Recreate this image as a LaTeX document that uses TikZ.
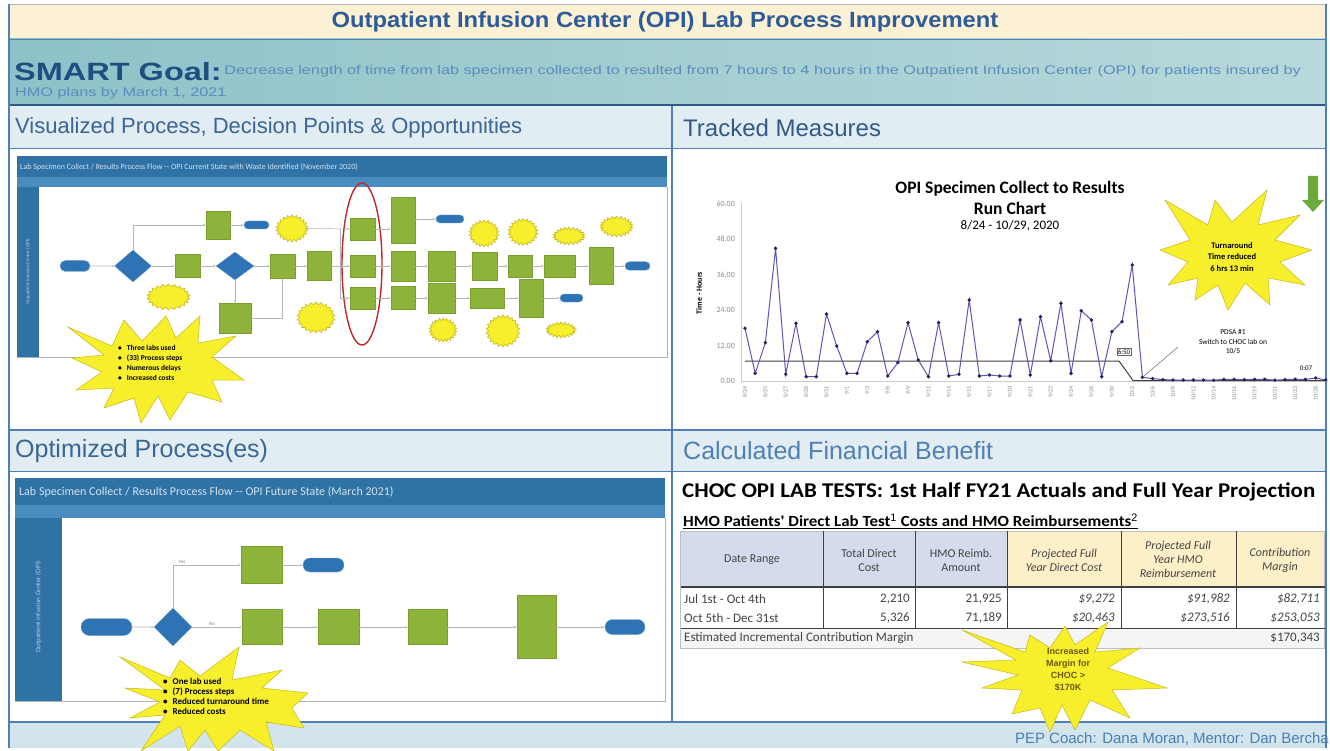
\documentclass[tikz,border=0pt]{standalone}
\usepackage{fontspec}
\setmainfont{Liberation Sans}
\newfontfamily\calfont{Carlito}
\newfontfamily\calwide[FakeStretch=1.09]{Carlito}
\newfontfamily\widesans[FakeStretch=1.3]{Liberation Sans}
\newfontfamily\titlesans[FakeStretch=1.08]{Liberation Sans}
\usetikzlibrary{shapes.geometric,shapes.misc,shapes.symbols,arrows.meta}
\newcommand\fsz[2]{\fontsize{#1}{#2}\selectfont}
\definecolor{titlebg}{HTML}{FCF1D4}
\definecolor{titlefg}{HTML}{2D5C99}
\definecolor{goalL}{HTML}{8EC2C8}
\definecolor{goalR}{HTML}{B8D9DB}
\definecolor{goalfg}{HTML}{1F4E80}
\definecolor{goaltx}{HTML}{5A8CBE}
\definecolor{hdrbg}{HTML}{E1EDF2}
\definecolor{hdrfg}{HTML}{3A6596}
\definecolor{rulec}{HTML}{4F7FB5}
\definecolor{darkrule}{HTML}{2E5A87}
\definecolor{footbg}{HTML}{D2E5EC}
\definecolor{footfg}{HTML}{4A7DB5}
\definecolor{flowblue}{HTML}{2F72A6}
\definecolor{flowlight}{HTML}{4A8CC0}
\definecolor{boxgreen}{HTML}{8DB33B}
\definecolor{boxgreenD}{HTML}{7A9E2E}
\definecolor{ovalblue}{HTML}{2E74B5}
\definecolor{burstY}{HTML}{F7EE2C}
\definecolor{burstD}{HTML}{C8B820}
\definecolor{ringred}{HTML}{C0282E}
\definecolor{connc}{HTML}{B4B4B4}
\definecolor{chartline}{HTML}{5A57B8}
\definecolor{chartmark}{HTML}{23235A}
\definecolor{axisgray}{HTML}{8C8C8C}
\definecolor{thBlue}{HTML}{D3DBEC}
\definecolor{thYel}{HTML}{FDF0C9}
\definecolor{tabtx}{HTML}{444444}
\definecolor{arrowgreen}{HTML}{6BAA3A}
\definecolor{burstTx}{HTML}{6B5A10}
\begin{document}
\begin{tikzpicture}[x=1pt,y=-1pt,
  gbox/.style={draw=boxgreenD, fill=boxgreen, line width=0.4pt, inner sep=0pt},
  bov/.style={rounded rectangle, fill=ovalblue, draw=ovalblue!70!white, line width=0.4pt, inner sep=0pt},
  dia/.style={diamond, fill=ovalblue, draw=ovalblue!70!white, line width=0.4pt, inner sep=0pt},
  blob/.style={starburst, starburst points=22, starburst point height=2.5pt, random starburst=0, fill=burstY, draw=burstD, line width=0.6pt, inner sep=0pt},
  cn/.style={draw=connc, line width=0.6pt, -{Stealth[length=2.5pt,width=2pt]}},
  cnp/.style={draw=connc, line width=0.6pt},
  burst/.style={fill=burstY, draw=burstD, line width=0.5pt},
  hdr/.style={anchor=west, text=hdrfg, inner sep=0pt},
  ylab/.style={anchor=east, text=axisgray, inner sep=0pt, font=\calfont\fsz{8}{9}},
  dlab/.style={anchor=east, rotate=90, text=axisgray, inner sep=0pt, font=\calfont\fsz{6}{7}},
  th/.style={text=tabtx, align=center, inner sep=0pt, font=\calfont\fsz{12}{14}},
  thi/.style={th, font=\calfont\itshape\fsz{12}{14}},
  td/.style={text=tabtx, inner sep=0pt, font=\calfont\fsz{13}{14}},
  tdi/.style={td, font=\calfont\itshape\fsz{13}{14}},
  btx/.style={inner sep=0pt, align=left, font=\calfont\bfseries\fsz{7.5}{10}}
]
\useasboundingbox (0,0) rectangle (1330,751);
\fill[white] (0,0) rectangle (1330,751);
% ---------- bands ----------
\fill[titlebg] (8,4) rectangle (1326,39);
\shade[left color=goalL, right color=goalR] (8,39) rectangle (1326,104);
\fill[hdrbg] (8,106) rectangle (1326,148);
\fill[hdrbg] (8,431) rectangle (1326,471);
\fill[footbg] (8,722) rectangle (1326,748);
\draw[gray!60, line width=0.8pt] (8,4) -- (1326,4);
\draw[rulec, line width=0.6pt] (8,39) -- (1326,39);
\draw[darkrule, line width=2pt] (8,105) -- (1326,105);
\draw[rulec, line width=0.8pt] (8,148) -- (1326,148);
\draw[rulec, line width=1.5pt] (8,430) -- (1326,430);
\draw[rulec, line width=0.8pt] (8,471) -- (1326,471);
\draw[rulec, line width=1.2pt] (8,722) -- (1326,722);
\draw[rulec, line width=1.2pt] (9,4) -- (9,748);
\draw[rulec, line width=1.2pt] (1326,4) -- (1326,748);
\draw[rulec, line width=1.5pt] (672,106) -- (672,722);
% ---------- title & goal ----------
\node[inner sep=0pt, text=titlefg, font=\titlesans\bfseries\fsz{22}{24}] (title) at (665,22) {Outpatient Infusion Center (OPI) Lab Process Improvement};
\node[anchor=west, inner sep=0pt, text=goalfg, font=\widesans\bfseries\fsz{25}{27}] (smart) at (14,72) {SMART Goal:};
\node[anchor=west, inner sep=0pt, text=goaltx, font=\widesans\fsz{12.5}{14}] (goal1) at ([yshift=1pt]smart.east) {\,Decrease length of time from lab specimen collected to resulted from 7 hours to 4 hours in the Outpatient Infusion Center (OPI) for patients insured by};
\node[anchor=west, inner sep=0pt, text=goaltx, font=\widesans\fsz{12.5}{14}] (goal2) at (15,93) {HMO plans by March 1, 2021};
% ---------- section headers ----------
\node[hdr, font=\fsz{22}{24}] (h1) at (15,128) {Visualized Process, Decision Points \& Opportunities};
\node[hdr, text=darkrule, font=\fsz{24}{26}] (h2) at (683,128) {Tracked Measures};
\node[hdr, font=\fsz{25}{27}] (h3) at (15,451) {Optimized Process(es)};
\node[hdr, text=rulec, font=\fsz{25}{27}] (h4) at (683,451) {Calculated Financial Benefit};
\node[anchor=east, inner sep=0pt, text=footfg, font=\fsz{15}{17}] (foot) at (1329,739) {PEP Coach: Dana Moran, Mentor: Dan Bercha};
% ---------- top-left flow panel ----------
\fill[flowblue] (17,156) rectangle (667,187);
\fill[flowlight] (17,177) rectangle (667,187);
\fill[flowblue] (17,187) rectangle (38.5,357);
\fill[white] (38.5,187) rectangle (666,356);
\draw[gray!60, line width=0.8pt] (17,357) -- (667,357) -- (667,187);
\node[anchor=west, inner sep=0pt, text=white!80!flowblue, font=\calfont\fsz{8}{9}] (ph1) at (20,167) {Lab Specimen Collect / Results Process Flow -- OPI Current State with Waste Identified (November 2020)};
\node[rotate=90, inner sep=0pt, text=white!65!flowblue, font=\calfont\fsz{5}{6}] (vs1) at (28,272) {Outpatient Infusion Center (OPI)};
% nodes
\node[bov, minimum width=30pt, minimum height=11pt] (s1) at (75,266) {};
\node[dia, minimum width=37pt, minimum height=32pt] (d1) at (133,266) {};
\node[gbox, minimum width=25pt, minimum height=23pt] (gm1) at (187.5,266) {};
\node[dia, minimum width=38pt, minimum height=28pt] (d2) at (235,266) {};
\node[gbox, minimum width=25pt, minimum height=24pt] (gm2) at (282.5,266) {};
\node[gbox, minimum width=24pt, minimum height=29pt] (gm3) at (319,266) {};
\node[gbox, minimum width=24pt, minimum height=28pt] (gt) at (218,225) {};
\node[bov, minimum width=25pt, minimum height=8pt] (et) at (256.5,225) {};
\node[blob, minimum width=32pt, minimum height=27pt] (bt) at (292,228.5) {};
\node[blob, minimum width=43pt, minimum height=26pt] (bu) at (168.5,297) {};
\node[gbox, minimum width=32pt, minimum height=30pt] (gd) at (235,318) {};
\node[blob, minimum width=38pt, minimum height=31pt] (bl) at (316,317.5) {};
\node[gbox, minimum width=25pt, minimum height=22pt] (e1) at (362.5,229) {};
\node[gbox, minimum width=25pt, minimum height=22pt] (e2) at (362.5,266) {};
\node[gbox, minimum width=25pt, minimum height=22pt] (e3) at (362.5,298) {};
\node[draw=ringred, line width=1.4pt, ellipse, minimum width=40pt, minimum height=162pt, inner sep=0pt] (ring) at (362,264) {};
\node[gbox, minimum width=24pt, minimum height=46pt] (c1) at (403,220) {};
\node[gbox, minimum width=24pt, minimum height=30pt] (c2) at (403,266) {};
\node[gbox, minimum width=24pt, minimum height=23pt] (c3) at (403,298) {};
\node[bov, minimum width=28pt, minimum height=8pt] (ec) at (450,219) {};
\node[gbox, minimum width=27pt, minimum height=30pt] (r2) at (441.5,266) {};
\node[gbox, minimum width=25pt, minimum height=28pt] (r3) at (484.5,266) {};
\node[gbox, minimum width=24pt, minimum height=22pt] (r4) at (520,266) {};
\node[gbox, minimum width=31pt, minimum height=22pt] (r5) at (559.5,266) {};
\node[gbox, minimum width=24pt, minimum height=37pt] (r6) at (601,266) {};
\node[bov, minimum width=25pt, minimum height=8.5pt] (er) at (637.5,266) {};
\node[gbox, minimum width=27pt, minimum height=30pt] (q2) at (441.5,298) {};
\node[gbox, minimum width=34pt, minimum height=20pt] (q3) at (487,298) {};
\node[gbox, minimum width=24pt, minimum height=38pt] (q4) at (531,298) {};
\node[bov, minimum width=23pt, minimum height=8pt] (eq) at (571.5,298) {};
\node[blob, minimum width=30pt, minimum height=27pt] (b1) at (484,233.5) {};
\node[blob, minimum width=30pt, minimum height=27pt] (b2) at (523,232) {};
\node[blob, minimum width=32pt, minimum height=18pt] (b3) at (569,236) {};
\node[blob, minimum width=33pt, minimum height=21pt] (b4) at (616.5,226.5) {};
\node[blob, minimum width=28pt, minimum height=24pt] (b5) at (443,330) {};
\node[blob, minimum width=34pt, minimum height=32pt] (b6) at (503,331) {};
\node[blob, minimum width=30pt, minimum height=16pt] (b7) at (561,330) {};
\coordinate (fan) at (340,266);
% connectors
\draw[cn] (s1) -- (d1);
\draw[cn] (d1) -- (gm1);
\draw[cn] (gm1) -- (d2);
\draw[cn] (d2) -- (gm2);
\draw[cn] (gm2) -- (gm3);
\draw[cn] (d1.north) |- (gt.west);
\draw[cn] (gt) -- (et);
\draw[cn] (d2.south) -- (gd.north);
\draw[cn] (gd.east) -| (gm2.south);
\draw[cnp] (gm3.east) -- (fan);
\draw[cnp] (fan |- e1.west) -- (fan |- e3.west);
\draw[cn] (bt.east) -- (e1.west);
\draw[cn] (fan) -- (e2.west);
\draw[cn] (fan |- e3.west) -- (e3.west);
\draw[cn] (e1.east) -- (e1.east -| c1.west);
\draw[cn] (e2) -- (c2);
\draw[cn] (e3) -- (c3);
\draw[cn] (c1.east |- ec) -- (ec.west);
\draw[cn] (c2) -- (r2);
\draw[cn] (r2) -- (r3);
\draw[cn] (r3) -- (r4);
\draw[cn] (r4) -- (r5);
\draw[cn] (r5) -- (r6);
\draw[cn] (r6) -- (er);
\draw[cn] (c3) -- (q2);
\draw[cn] (q2) -- (q3);
\draw[cn] (q3) -- (q4);
\draw[cn] (q4) -- (eq);
% big burst A
\filldraw[burst] (68,327) -- (112,346) -- (124,320) -- (142,341) -- (166,316) -- (176,338) -- (200,316) -- (198,343) -- (236,336) -- (212,357) -- (244,380) -- (212,380) -- (222,402) -- (188,392) -- (170,420) -- (158,396) -- (141,423) -- (134,398) -- (104,408) -- (114,388) -- (76,390) -- (102,372) -- (72,358) -- (104,355) -- cycle;
\node[btx, anchor=north west] (ta) at (118,345) {\textbullet\hspace{5pt}Three labs used\\ \textbullet\hspace{5pt}(33) Process steps\\ \textbullet\hspace{5pt}Numerous delays\\ \textbullet\hspace{5pt}Increased costs};
% ---------- bottom-left flow panel ----------
\fill[flowblue] (15,478) rectangle (665,518);
\fill[flowlight] (15,505) rectangle (665,518);
\fill[flowblue] (15,518) rectangle (62,701);
\fill[white] (62,518) rectangle (664,700);
\draw[gray!60, line width=0.8pt] (15,701) -- (665,701) -- (665,518);
\node[anchor=west, inner sep=0pt, text=white!80!flowblue, font=\calfont\fsz{12}{13}] (ph2) at (19,492) {Lab Specimen Collect / Results Process Flow -- OPI Future State (March 2021)};
\node[rotate=90, inner sep=0pt, text=white!65!flowblue, font=\calfont\fsz{7}{8}] (vs2) at (38.5,607) {Outpatient Infusion Center (OPI)};
\node[bov, minimum width=51pt, minimum height=17pt] (s2) at (106.5,627) {};
\node[dia, minimum width=38pt, minimum height=38pt] (d3) at (173,627) {};
\node[gbox, minimum width=41pt, minimum height=37pt] (ft) at (261.5,565) {};
\node[bov, minimum width=41pt, minimum height=14pt] (et2) at (323.5,565) {};
\node[gbox, minimum width=40pt, minimum height=35pt] (f1) at (262,627) {};
\node[gbox, minimum width=41pt, minimum height=35pt] (f2) at (338.5,627) {};
\node[gbox, minimum width=39pt, minimum height=35pt] (f3) at (427.5,627) {};
\node[gbox, minimum width=39pt, minimum height=63pt] (f4) at (536.5,627) {};
\node[bov, minimum width=40pt, minimum height=15pt] (ee2) at (625,627) {};
\draw[cn] (s2) -- (d3);
\draw[cn] (d3) -- (f1);
\draw[cn] (f1) -- (f2);
\draw[cn] (f2) -- (f3);
\draw[cn] (f3) -- (f4);
\draw[cn] (f4) -- (ee2);
\draw[cn] (d3.north) |- (ft.west);
\draw[cn] (ft) -- (et2);
\node[inner sep=0pt, text=gray, font=\calfont\fsz{5}{6}] (yes) at (182,562) {Yes};
\node[inner sep=0pt, text=gray, font=\calfont\fsz{5}{6}] (no) at (212,624) {No};
% big burst B
\filldraw[burst] (120,657) -- (170,678) -- (180,660) -- (200,676) -- (239,647) -- (232,680) -- (282,670) -- (262,688) -- (308,693) -- (292,708) -- (304,728) -- (266,722) -- (274,751) -- (240,730) -- (218,751) -- (205,730) -- (188,751) -- (180,726) -- (141,751) -- (165,715) -- (130,718) -- (160,702) -- (125,688) -- (165,690) -- cycle;
\node[btx, anchor=north west, font=\calfont\bfseries\fsz{9}{10}] (tb) at (163,678) {\textbullet\hspace{5pt}One lab used\\ \textbullet\hspace{5pt}(7) Process steps\\ \textbullet\hspace{5pt}Reduced turnaround time\\ \textbullet\hspace{5pt}Reduced costs};
% ---------- run chart ----------
\node[inner sep=0pt, align=center, font=\calfont\bfseries\fsz{17.5}{21}] (ct) at (1010,198) {OPI Specimen Collect to Results\\Run Chart};
\node[inner sep=0pt, font=\calfont\fsz{13}{15}] (cd) at (1010,226) {8/24 - 10/29, 2020};
\draw[gray!40, line width=0.6pt] (741,203) -- (741,381) -- (1328,381);
\foreach \v/\yy [count=\k] in {0.00/381,12.00/345.5,24.00/310,36.00/274.5,48.00/239,60.00/203.5}
  \node[ylab] (yl\k) at (735,\yy) {\v};
\node[rotate=90, inner sep=0pt, font=\calfont\bfseries\fsz{8}{9}] (yt) at (699,293) {Time - Hours};
\foreach \d [count=\k] in {8/24,8/25,8/27,8/28,8/31,9/1,9/3,9/8,9/9,9/11,9/14,9/15,9/17,9/18,9/21,9/23,9/24,9/28,9/30,10/2,10/6,10/8,10/12,10/14,10/16,10/19,10/21,10/23,10/28}
  \node[dlab] (dl\k) at ({745+(2*\k-2)*10.19},386) {\d};
\draw[black!75, line width=1pt] (745,361) -- (1119,361) -- (1133,380.5) -- (1326,380.5);
\foreach \yv [count=\i] in {328.3,373.3,342.7,248.3,374.3,323.3,376.7,376.7,314,346,373.3,373.3,341.7,331.7,376,362.7,322.7,360,376.7,322.7,376,374.3,300,376,375,376,376,320,375,316.7,360.7,303.3,373.3,310.7,320,376.7,331.7,321.7,265,377.3,378.6,379.6,380,380,380,380,380.2,379.4,379.4,379.6,379.4,379.2,380.2,379.6,379.2,379.4,378,380}
  \coordinate (p\i) at ({745+(\i-1)*10.19},\yv);
\draw[chartline, line width=1pt] (p1) \foreach \i in {2,...,58} { -- (p\i) };
\foreach \i in {1,...,58} \fill[chartmark] (p\i) circle (1.9);
\node[draw=black!60, fill=white, line width=0.4pt, inner sep=1pt, font=\calfont\fsz{7}{8}] (v650) at (1124,352) {6:50};
\node[inner sep=0pt, align=center, font=\calfont\fsz{7.5}{9.5}] (pdsa) at (1233,342) {PDSA \#1\\Switch to CHOC lab on\\10/5};
\draw[black!60, line width=0.5pt] (1178,347) -- (p40);
\node[inner sep=0pt, font=\calfont\fsz{7}{8}] (v007) at (1306,368) {0:07};
\filldraw[burst] (1165,200) -- (1208,225) -- (1215,200) -- (1232,222) -- (1267,190) -- (1258,225) -- (1300,215) -- (1275,240) -- (1312,250) -- (1280,262) -- (1305,285) -- (1268,278) -- (1270,305) -- (1245,283) -- (1228,310) -- (1218,285) -- (1195,300) -- (1198,278) -- (1168,285) -- (1188,262) -- (1160,250) -- (1190,240) -- cycle;
\node[inner sep=0pt, align=center, font=\calfont\bfseries\fsz{8.5}{11.7}] (tc) at (1232,257) {Turnaround\\Time reduced\\6 hrs 13 min};
\fill[arrowgreen] (1308,176) -- (1318,176) -- (1318,200) -- (1324,200) -- (1313,212) -- (1302,200) -- (1308,200) -- cycle;
% ---------- financial table ----------
\node[anchor=west, inner sep=0pt, font=\calwide\bfseries\fsz{21}{23}] (tt) at (682,492) {CHOC OPI LAB TESTS: 1st Half FY21 Actuals and Full Year Projection};
\node[anchor=west, inner sep=0pt, font=\calwide\bfseries\fsz{15.5}{17}] (ts) at (683,521) {\underline{HMO Patients' Direct Lab Test$^{\mathrm 1}$ Costs and HMO Reimbursements$^{\mathrm 2}$}};
\fill[thBlue] (680.5,531) rectangle (1007.5,587);
\fill[thYel] (1007.5,531) rectangle (1324.5,587);
\fill[gray!8] (680.5,628) rectangle (1324.5,648);
\draw[gray!50, line width=0.6pt] (680.5,531) rectangle (1324.5,648);
\foreach \cx in {823.6,915,1007.5,1121,1236} \draw[black!75, line width=1pt] (\cx,531) -- (\cx,628);
\draw[black!75, line width=1.4pt] (680.5,587) -- (1324.5,587);
\draw[black!75, line width=1pt] (680.5,628) -- (1324.5,628);
\node[th] (hA) at (752,560) {Date Range};
\node[th] (hB) at (869,560) {Total Direct\\Cost};
\node[th] (hC) at (961,560) {HMO Reimb.\\Amount};
\node[thi] (hD) at (1064,560) {Projected Full\\Year Direct Cost};
\node[thi] (hE) at (1178,559) {Projected Full\\Year HMO\\Reimbursement};
\node[thi] (hF) at (1280,560) {Contribution\\Margin};
\node[td, anchor=west] (a1) at (684,599) {Jul 1st - Oct 4th};
\node[td, anchor=east] (b1v) at (910,599) {2,210};
\node[td, anchor=east] (c1v) at (1002,599) {21,925};
\node[tdi, anchor=east] (d1v) at (1115,599) {\$9,272};
\node[tdi, anchor=east] (e1v) at (1230,599) {\$91,982};
\node[tdi, anchor=east] (f1v) at (1320,599) {\$82,711};
\node[td, anchor=west] (a2) at (684,618) {Oct 5th - Dec 31st};
\node[td, anchor=east] (b2v) at (910,618) {5,326};
\node[td, anchor=east] (c2v) at (1002,618) {71,189};
\node[tdi, anchor=east] (d2v) at (1115,618) {\$20,463};
\node[tdi, anchor=east] (e2v) at (1230,618) {\$273,516};
\node[tdi, anchor=east] (f2v) at (1320,618) {\$253,053};
\node[td, anchor=west] (a3) at (684,638) {Estimated Incremental Contribution Margin};
\node[td, anchor=east] (f3v) at (1320,638) {\$170,343};
\filldraw[burst] (962,630) -- (1025,652) -- (1030,635) -- (1050,648) -- (1065,626) -- (1075,645) -- (1108,622) -- (1095,652) -- (1140,648) -- (1108,668) -- (1167,688) -- (1112,690) -- (1130,718) -- (1090,700) -- (1075,730) -- (1062,705) -- (1050,732) -- (1040,708) -- (1012,714) -- (1022,690) -- (982,688) -- (1018,675) -- (962,662) -- (1016,660) -- cycle;
\node[inner sep=0pt, align=center, text=burstTx, font=\bfseries\fsz{9}{12}] (td1) at (1068,670) {Increased\\Margin for\\CHOC >\\\$170K};
\end{tikzpicture}
\end{document}
